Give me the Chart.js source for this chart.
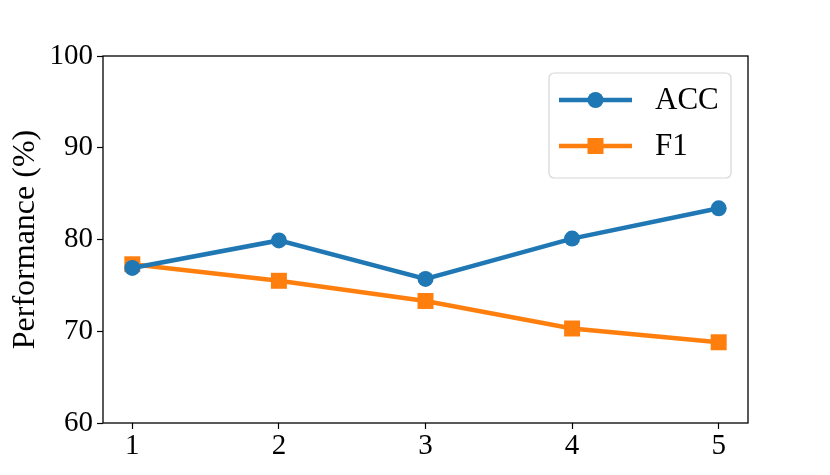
<!DOCTYPE html>
<html>
<head>
<meta charset="utf-8">
<script src="https://cdn.jsdelivr.net/npm/chart.js@4"></script>
<style>
  html, body { margin: 0; padding: 0; background: #fff; }
  #wrap { width: 830px; height: 475px; }
</style>
</head>
<body>
<div id="wrap"><canvas id="c" width="830" height="475"></canvas></div>
<script>
const steps = [1, 2, 3, 4, 5]
const accValues = [76.9, 79.9, 75.7, 80.1, 83.4]
const f1Values = [77.3, 75.5, 73.3, 70.3, 68.8]
const yTicks = [60, 70, 80, 90, 100]

const FONT = "'Liberation Serif', 'DejaVu Serif', serif"

// box around the plot (matplotlib spines)
const frame = {
  id: "frame",
  afterDraw(chart) {
    const { ctx, chartArea: a } = chart
    ctx.save()
    ctx.strokeStyle = "#000"
    ctx.lineWidth = 1.3
    ctx.strokeRect(a.left, a.top, a.right - a.left, a.bottom - a.top)
    ctx.restore()
  }
}

// legend box in the top-right corner, like matplotlib's
const boxLegend = {
  id: "boxLegend",
  afterDraw(chart) {
    const { ctx } = chart
    const x = 549, y = 73, w = 182, h = 105, r = 5
    ctx.save()
    ctx.fillStyle = "rgba(255,255,255,0.8)"
    ctx.strokeStyle = "#d6d6d6"
    ctx.lineWidth = 1.2
    ctx.beginPath()
    ctx.roundRect(x, y, w, h, r)
    ctx.fill()
    ctx.stroke()
    chart.data.datasets.forEach((ds, i) => {
      const ly = 100 + i * 46
      ctx.strokeStyle = ds.borderColor
      ctx.lineWidth = ds.borderWidth
      ctx.beginPath()
      ctx.moveTo(559, ly)
      ctx.lineTo(632, ly)
      ctx.stroke()
      ctx.fillStyle = ds.backgroundColor
      if (ds.pointStyle === "rect") {
        ctx.fillRect(595.5 - 8, ly - 8, 16, 16)
      } else {
        ctx.beginPath()
        ctx.arc(595.5, ly, 8, 0, Math.PI * 2)
        ctx.fill()
      }
      ctx.fillStyle = "#000"
      ctx.font = "31px " + FONT
      ctx.textBaseline = "middle"
      ctx.fillText(ds.label, 655, ly + 1)
    })
    ctx.restore()
  }
}

new Chart(document.getElementById("c"), {
  type: "line",
  data: {
    datasets: [
      {
        label: "ACC",
        data: steps.map((s, i) => ({ x: s, y: accValues[i] })),
        borderColor: "#1f77b4",
        backgroundColor: "#1f77b4",
        borderWidth: 4.5,
        pointStyle: "circle",
        pointRadius: 8,
        pointBorderWidth: 0,
        tension: 0
      },
      {
        label: "F1",
        data: steps.map((s, i) => ({ x: s, y: f1Values[i] })),
        borderColor: "#ff7f0e",
        backgroundColor: "#ff7f0e",
        borderWidth: 4.5,
        pointStyle: "rect",
        pointRadius: 11.3,
        pointBorderWidth: 0,
        tension: 0
      }
    ]
  },
  options: {
    responsive: false,
    animation: false,
    layout: { padding: { top: 56, right: 82, bottom: 0, left: 6 } },
    plugins: {
      legend: { display: false },
      tooltip: { enabled: false }
    },
    scales: {
      x: {
        type: "linear",
        min: 0.8,
        max: 5.2,
        afterBuildTicks: (s) => { s.ticks = steps.map(v => ({ value: v })) },
        afterFit: (s) => { s.height = 52 },
        grid: { drawOnChartArea: false, tickLength: 6, tickColor: "#000", tickWidth: 1.2 },
        border: { display: false },
        ticks: { color: "#000", font: { family: FONT, size: 29 }, padding: 0, maxRotation: 0 }
      },
      y: {
        min: 60,
        max: 100,
        afterBuildTicks: (s) => { s.ticks = yTicks.map(v => ({ value: v })) },
        afterFit: (s) => { s.width = 97 },
        grid: { drawOnChartArea: false, tickLength: 6, tickColor: "#000", tickWidth: 1.2 },
        border: { display: false },
        ticks: { color: "#000", font: { family: FONT, size: 29 }, padding: 4 },
        title: {
          display: true,
          text: "Performance (%)",
          color: "#000",
          font: { family: FONT, size: 32 },
          padding: { top: 0, bottom: 0 }
        }
      }
    }
  },
  plugins: [frame, boxLegend]
})
</script>
</body>
</html>
